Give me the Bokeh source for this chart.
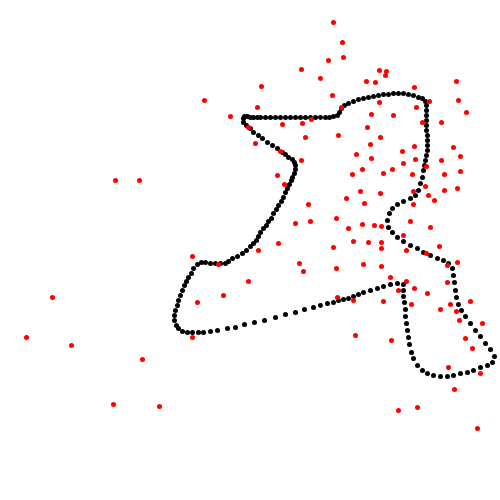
from bokeh.plotting import figure
from bokeh.models import Range1d
from bokeh.embed import file_html
from bokeh.resources import INLINE

# Black closed curve (x, y in chart units; y grows downward)
curve_x = [244,247,250,253,257,260,265,270,275,280,285,290,295,300,305,310,315,320,325,329,333,337,339,341,344,348,353,358,363,368,373,378,383,388,393,398,403,408,413,418,422,425,426,
           426,426,426,426,426,427,427,427,427,426,425,424,423,422,420,418,415,410,403,397,392,389,387,388,392,397,403,410,417,423,430,437,443,448,452,453,454,455,456,458,461,465,470,475,480,485,490,494,492,487,480,473,467,460,453,447,440,433,427,422,417,413,411,409,408,407,406,405,405,404,403,403,403,
           397,390,383,377,370,363,358,353,348,343,338,333,327,320,313,304,295,285,275,264,254,244,235,227,217,210,203,198,192,187,182,178,176,174,174,175,177,178,180,182,184,186,188,191,193,197,201,205,210,215,220,225,228,232,237,242,246,250,253,256,258,260,263,266,268,271,273,276,278,281,283,285,287,289,291,292,294,295,295,294,292,288,285,282,277,272,267,262,258,253,250,246,243,243]
curve_y = [116,116,117,117,117,117,117,117,117,117,117,117,117,117,117,117,117,117,117,117,116,115,112,108,105,103,101,99,98,97,96,95,94,94,93,93,93,94,95,97,98,101,105,
           110,115,120,125,130,135,140,145,150,155,160,165,170,177,183,190,195,198,201,204,208,213,220,227,232,237,241,245,248,252,255,258,260,263,268,275,282,290,297,304,310,316,323,330,336,343,349,356,362,365,367,370,372,373,375,376,376,375,373,370,365,358,352,344,337,330,323,316,309,302,296,290,284,
           283,284,286,288,290,292,294,296,298,299,300,302,303,305,307,309,312,314,317,320,322,324,327,328,330,331,332,332,332,332,331,328,325,320,315,310,305,300,295,290,285,281,277,273,268,264,262,262,263,263,263,263,261,258,256,253,250,246,243,240,236,232,228,225,221,218,213,209,205,201,197,192,188,184,180,177,173,169,165,162,159,157,154,152,148,145,142,138,135,132,128,125,122,118]

# Red scattered points
red_x = [333,342,343,328,301,320,379,386,385,366,375,414,456,332,458,429,379,416,466,371,393,341,261,204,257,230,282,302,311,305,
         255,301,277,284,308,310,295,278,280,248,338,356,362,352,360,346,364,336,348,362,367,422,441,380,370,402,414,453,460,371,
         415,403,441,392,426,383,412,444,460,380,413,425,444,457,428,434,413,374,381,410,430,403,353,368,381,333,381,439,406,258,
         299,303,336,363,248,337,353,192,218,223,197,52,26,71,142,113,159,192,115,139,426,381,457,447,390,406,447,414,398,427,
         383,411,440,450,470,456,459,482,355,391,465,472,448,480,454,398,417,477]
red_y = [22,42,57,60,69,78,70,71,75,81,82,87,81,95,100,101,102,107,112,114,115,107,86,100,107,116,124,123,119,137,
         143,160,175,184,204,221,223,243,151,127,135,154,169,174,191,198,203,218,228,224,127,122,122,137,144,151,146,147,156,158,
         159,163,160,169,166,173,174,174,171,193,191,186,190,188,195,200,204,225,226,221,227,235,241,242,242,247,248,246,250,250,
         263,271,268,264,281,297,300,256,264,295,302,297,337,345,359,404,406,337,180,180,253,266,262,265,277,281,282,288,290,293,
         301,304,309,304,301,311,320,323,335,340,338,348,367,373,389,410,407,428]

p = figure(width=500, height=500, output_backend="svg", toolbar_location=None,
           x_range=Range1d(0, 500), y_range=Range1d(500, 0),
           min_border=0, min_border_left=0, min_border_right=0,
           min_border_top=0, min_border_bottom=0)
p.axis.visible = False
p.grid.visible = False
p.outline_line_color = None
p.background_fill_color = "white"
p.border_fill_color = "white"

p.scatter(curve_x, curve_y, size=5, color="black", line_color=None)
p.scatter(red_x, red_y, size=5, color="red", line_color=None)

open("out.html", "w").write(file_html(p, INLINE))
